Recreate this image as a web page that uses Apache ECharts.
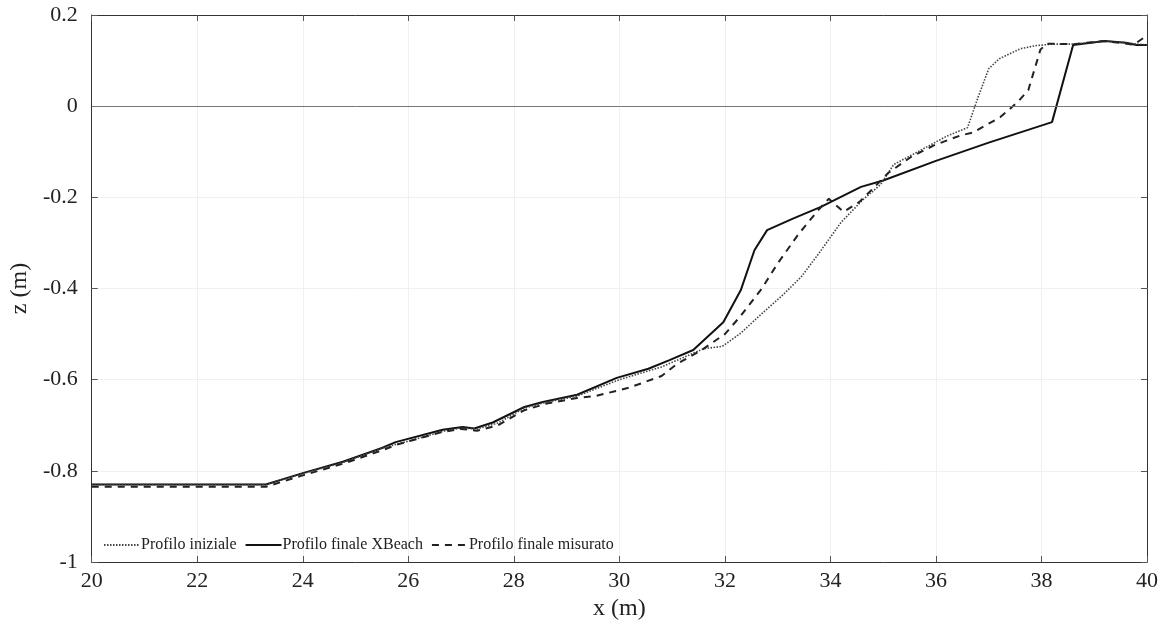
<!DOCTYPE html>
<html>
<head>
<meta charset="utf-8">
<script src="https://cdn.jsdelivr.net/npm/echarts@6/dist/echarts.min.js"></script>
<style>
  html, body { margin: 0; padding: 0; background: #fff; }
  #chart { width: 1170px; height: 630px; }
</style>
</head>
<body>
<div id="chart"></div>
<script>
// profilo iniziale (dotted)
var xIniziale = [20, 23.3, 24.0, 24.8, 25.5, 26.0, 26.7, 27.0, 27.3, 27.7, 28.2, 28.6, 29.2, 30.0, 30.8, 31.6, 31.95, 32.3, 32.7, 33.1, 33.45, 33.8, 34.2, 34.6, 34.95, 35.2, 35.85, 36.2, 36.6, 36.8, 37.0, 37.2, 37.6, 37.9, 38.2, 38.6, 39.2, 39.6, 40];
var zIniziale = [-0.83, -0.83, -0.806, -0.78, -0.75, -0.735, -0.712, -0.706, -0.708, -0.695, -0.662, -0.65, -0.636, -0.6, -0.572, -0.532, -0.527, -0.498, -0.455, -0.414, -0.374, -0.32, -0.255, -0.207, -0.172, -0.128, -0.088, -0.066, -0.047, 0.02, 0.082, 0.104, 0.126, 0.133, 0.136, 0.136, 0.143, 0.139, 0.134];

// profilo finale XBeach (solid)
var xXBeach = [20, 23.3, 24.0, 24.76, 25.5, 25.76, 26.65, 27.03, 27.25, 27.6, 28.2, 28.55, 29.2, 29.95, 30.55, 30.95, 31.4, 31.97, 32.3, 32.56, 32.8, 33.3, 33.82, 34.58, 35.0, 36.0, 37.0, 38.2, 38.6, 39.2, 39.6, 39.8, 40];
var zXBeach = [-0.83, -0.83, -0.805, -0.78, -0.75, -0.737, -0.71, -0.704, -0.707, -0.694, -0.66, -0.649, -0.633, -0.596, -0.576, -0.557, -0.535, -0.474, -0.404, -0.316, -0.272, -0.246, -0.221, -0.177, -0.163, -0.12, -0.08, -0.035, 0.134, 0.143, 0.139, 0.134, 0.134];

// profilo finale misurato (dashed)
var xMisurato = [20, 23.3, 24.0, 24.8, 25.5, 25.8, 26.6, 27.0, 27.3, 27.7, 28.2, 28.6, 29.2, 29.55, 30.2, 30.8, 31.1, 31.56, 32.0, 32.3, 32.7, 33.0, 33.4, 33.77, 33.97, 34.25, 34.55, 34.83, 35.1, 35.52, 35.96, 36.47, 36.7, 37.22, 37.55, 37.75, 37.98, 38.1, 38.6, 39.2, 39.75, 40];
var zMisurato = [-0.835, -0.835, -0.81, -0.783, -0.755, -0.742, -0.716, -0.708, -0.712, -0.7, -0.667, -0.653, -0.64, -0.636, -0.617, -0.592, -0.565, -0.535, -0.5, -0.46, -0.4, -0.345, -0.28, -0.228, -0.203, -0.232, -0.21, -0.178, -0.146, -0.112, -0.086, -0.064, -0.058, -0.024, 0.009, 0.035, 0.124, 0.137, 0.136, 0.143, 0.135, 0.155];

var nomi = ['Profilo iniziale', 'Profilo finale XBeach', 'Profilo finale misurato'];

function zip(xs, zs) {
  return xs.map(function (x, i) { return [x, zs[i]]; });
}

var font = 'Liberation Serif';
var chart = echarts.init(document.getElementById('chart'));

var boxAxis = {
  axisLine: { show: true, onZero: false, lineStyle: { color: '#333', width: 1 } },
  axisTick: { show: true, inside: true, length: 6, lineStyle: { color: '#555' } },
  axisLabel: { show: false },
  splitLine: { show: false }
};

var option = {
  backgroundColor: '#fff',
  animation: false,
  grid: { left: 88, right: 23, top: 15, bottom: 68 },
  legend: {
    left: 98,
    top: 532,
    itemWidth: 36,
    itemHeight: 10,
    itemGap: 8,
    itemStyle: { opacity: 0 },
    textStyle: { fontFamily: font, fontSize: 16, color: '#222', padding: [0, 0, 0, -4] },
    data: nomi
  },
  xAxis: [{
    type: 'value',
    min: 20, max: 40, interval: 2,
    name: 'x (m)',
    nameLocation: 'middle',
    nameGap: 34,
    nameTextStyle: { fontFamily: font, fontSize: 24, color: '#222' },
    axisLine: { show: true, onZero: false, lineStyle: { color: '#333', width: 1 } },
    axisTick: { show: true, inside: true, length: 6, lineStyle: { color: '#555' } },
    axisLabel: { fontFamily: font, fontSize: 22, color: '#222', margin: 8 },
    splitLine: { show: true, lineStyle: { color: '#f0f0f0' } }
  }, Object.assign({ type: 'value', position: 'top', min: 20, max: 40, interval: 2 }, boxAxis)],
  yAxis: [{
    type: 'value',
    min: -1, max: 0.2, interval: 0.2,
    name: 'z (m)',
    nameLocation: 'middle',
    nameGap: 54,
    nameTextStyle: { fontFamily: font, fontSize: 24, color: '#222' },
    axisLine: { show: true, onZero: false, lineStyle: { color: '#333', width: 1 } },
    axisTick: { show: true, inside: true, length: 6, lineStyle: { color: '#555' } },
    axisLabel: {
      fontFamily: font, fontSize: 22, color: '#222', margin: 14,
      formatter: function (v) { return String(Math.round(v * 10) / 10); }
    },
    splitLine: { show: true, lineStyle: { color: '#f0f0f0' } }
  }, Object.assign({ type: 'value', position: 'right', min: -1, max: 0.2, interval: 0.2 }, boxAxis)],
  series: [
    {
      name: nomi[0],
      type: 'line',
      symbol: 'none',
      data: zip(xIniziale, zIniziale),
      lineStyle: { color: '#444', width: 1.6, type: [1.5, 1.5] },
      itemStyle: { color: '#444' },
      z: 3
    },
    {
      name: nomi[1],
      type: 'line',
      symbol: 'none',
      data: zip(xXBeach, zXBeach),
      lineStyle: { color: '#111', width: 2 },
      itemStyle: { color: '#111' },
      markLine: {
        silent: true,
        symbol: 'none',
        label: { show: false },
        lineStyle: { color: '#777', width: 1, type: 'solid' },
        data: [{ yAxis: 0 }]
      },
      z: 2
    },
    {
      name: nomi[2],
      type: 'line',
      symbol: 'none',
      data: zip(xMisurato, zMisurato),
      lineStyle: { color: '#222', width: 2, type: [7, 6] },
      itemStyle: { color: '#222' },
      z: 4
    }
  ]
};

chart.setOption(option);
window.addEventListener('resize', function () { chart.resize(); });
</script>
</body>
</html>
